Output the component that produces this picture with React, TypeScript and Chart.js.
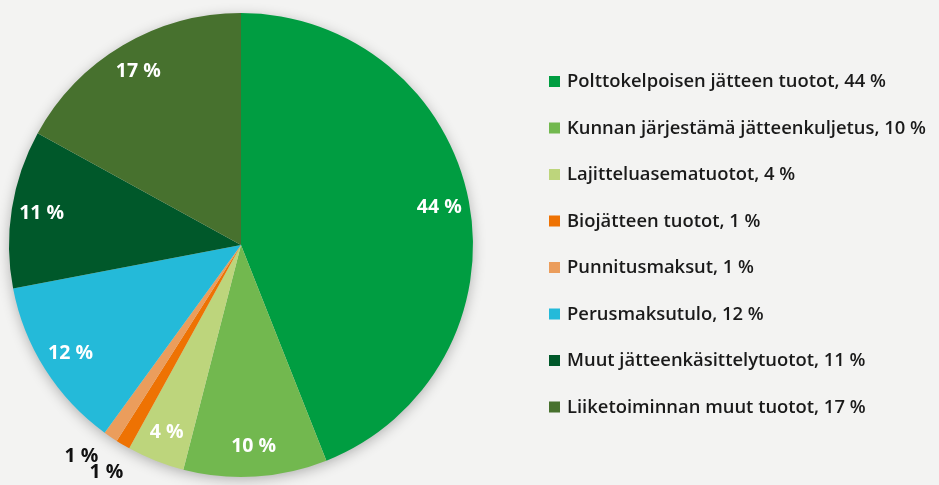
import React, { useEffect, useRef } from "react";
import { Chart, registerables } from "chart.js";
Chart.register(...registerables);

const categories = [
  "Polttokelpoisen jätteen tuotot",
  "Kunnan järjestämä jätteenkuljetus",
  "Lajitteluasematuotot",
  "Biojätteen tuotot",
  "Punnitusmaksut",
  "Perusmaksutulo",
  "Muut jätteenkäsittelytuotot",
  "Liiketoiminnan muut tuotot",
];
const values = [44, 10, 4, 1, 1, 12, 11, 17];
const colors = [
  "#009d41",
  "#72b84f",
  "#bdd57c",
  "#ee7203",
  "#eb9d5c",
  "#24bad9",
  "#00582a",
  "#47712e",
];

const BG = "#f3f3f2";
const FONT = "'Open Sans', 'Noto Sans', sans-serif";

export default function App() {
  const ref = useRef<HTMLCanvasElement>(null);
  useEffect(() => {
    if (!ref.current) return;

    const shadowPlugin = {
      id: "pieShadow",
      beforeDatasetsDraw(chart: any) {
        const arc = chart.getDatasetMeta(0).data[0] as any;
        if (!arc) return;
        const ctx = chart.ctx;
        ctx.save();
        ctx.shadowColor = "rgba(0,0,0,0.30)";
        ctx.shadowBlur = 14;
        ctx.shadowOffsetY = 3;
        ctx.fillStyle = "#dddddd";
        ctx.beginPath();
        ctx.arc(arc.x, arc.y, arc.outerRadius - 1, 0, Math.PI * 2);
        ctx.fill();
        ctx.restore();
      },
    };

    const labelPlugin = {
      id: "sliceLabels",
      afterDatasetsDraw(chart: any) {
        const ctx = chart.ctx;
        const meta = chart.getDatasetMeta(0);
        const data = chart.data.datasets[0].data as number[];
        ctx.save();
        ctx.textAlign = "center";
        ctx.textBaseline = "middle";
        ctx.font = `bold 19.5px ${FONT}`;
        let lastOutside = -Infinity;
        meta.data.forEach((el: any, i: number) => {
          const v = data[i];
          let mid = (el.startAngle + el.endAngle) / 2;
          let r: number;
          if (v < 2) {
            const minSep = (6.5 * Math.PI) / 180;
            if (mid - lastOutside < minSep) mid = lastOutside + minSep;
            lastOutside = mid;
            r = el.outerRadius * 1.14;
            ctx.fillStyle = "#111111";
          } else {
            r = el.outerRadius * 0.87;
            ctx.fillStyle = "#ffffff";
          }
          const x = el.x + Math.cos(mid) * r;
          const y = el.y + Math.sin(mid) * r;
          ctx.fillText(`${v} %`, x, y);
        });
        ctx.restore();
      },
    };

    const legendPlugin = {
      id: "sideLegend",
      afterDraw(chart: any) {
        const ctx = chart.ctx;
        const area = chart.chartArea;
        const data = chart.data.datasets[0].data as number[];
        const bx = area.right + 76;
        const y0 = 81.5;
        const step = 46.5;
        ctx.save();
        ctx.font = `600 18.4px ${FONT}`;
        ctx.textBaseline = "middle";
        ctx.textAlign = "left";
        (chart.data.labels as string[]).forEach((lab, i) => {
          const y = y0 + i * step;
          ctx.fillStyle = colors[i];
          ctx.fillRect(bx, y - 5.5, 11, 11);
          ctx.fillStyle = "#1a1a1a";
          ctx.fillText(`${lab}, ${data[i]} %`, bx + 18, y + 0.5);
        });
        ctx.restore();
      },
    };

    const chart = new Chart(ref.current, {
      type: "pie",
      data: {
        labels: categories,
        datasets: [
          {
            data: values,
            backgroundColor: colors,
            borderWidth: 0,
          },
        ],
      },
      options: {
        animation: false,
        responsive: true,
        maintainAspectRatio: false,
        layout: { padding: { left: 9, top: 13, bottom: 8, right: 466 } },
        plugins: {
          legend: { display: false },
          tooltip: { enabled: false },
        },
      },
      plugins: [shadowPlugin, labelPlugin, legendPlugin],
    });
    return () => chart.destroy();
  }, []);

  return (
    <div
      style={{
        position: "fixed",
        left: 0,
        top: 0,
        width: 939,
        height: 485,
        background: BG,
      }}
    >
      <canvas ref={ref} />
    </div>
  );
}
